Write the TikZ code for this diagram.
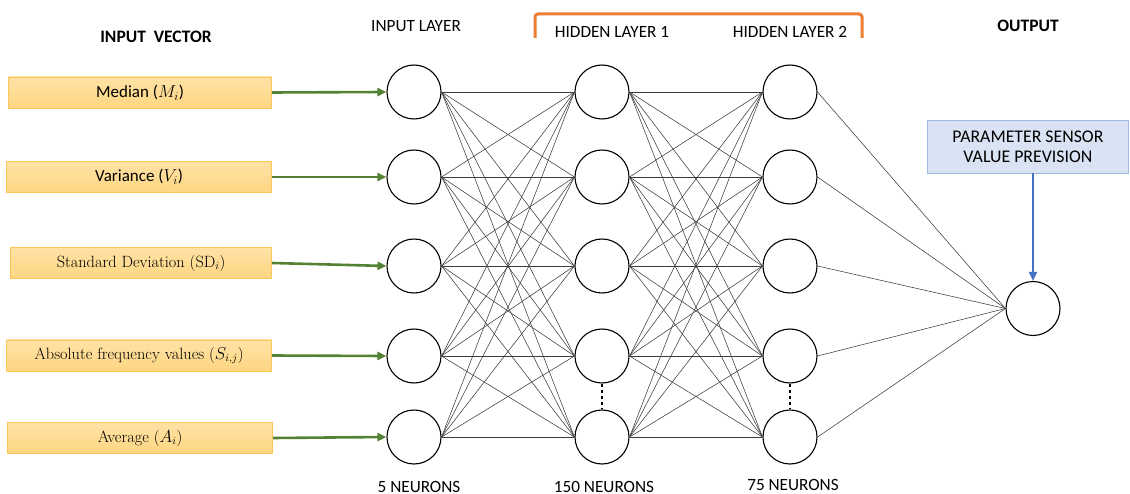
\documentclass[tikz,border=0pt]{standalone}
\usepackage{fontspec}
\newfontfamily\carlito{Carlito}
\usetikzlibrary{arrows.meta}
\definecolor{boxfill}{RGB}{254,214,130}
\definecolor{boxtop}{RGB}{255,226,165}
\definecolor{boxedge}{RGB}{250,200,90}
\definecolor{arrowgreen}{RGB}{84,130,53}
\definecolor{bluefill}{RGB}{218,227,243}
\definecolor{blueedge}{RGB}{160,185,228}
\definecolor{bluearrow}{RGB}{68,114,196}
\definecolor{bracketorange}{RGB}{237,125,49}
\definecolor{linkgray}{RGB}{60,60,60}
\tikzset{
  neuron/.style={circle, draw=black, line width=1.1pt, minimum size=54pt, inner sep=0pt, fill=white},
  vecbox/.style={draw=boxedge, line width=0.8pt, top color=boxtop, bottom color=boxfill,
    minimum height=31pt, inner sep=0pt, anchor=east},
  sanslabel/.style={font=\carlito\fontsize{17}{19}\selectfont},
  seriflabel/.style={font=\fontsize{16.3}{18}\selectfont},
  heading/.style={font=\carlito\fontsize{17.2}{19}\selectfont},
  boldheading/.style={font=\carlito\bfseries\fontsize{17.5}{19}\selectfont},
  resultlabel/.style={font=\carlito\fontsize{17.8}{20}\selectfont},
  countlabel/.style={heading, inner sep=0pt, anchor=base},
  link/.style={draw=linkgray, line width=0.55pt},
  feed/.style={draw=arrowgreen, line width=2.6pt, -{Triangle[length=9pt,width=8pt]}},
  result/.style={draw=bluearrow, line width=2.4pt, -{Triangle[length=9pt,width=8pt]}},
}
\begin{document}
\begin{tikzpicture}[x=1pt,y=-1pt]
\useasboundingbox (0,0) rectangle (1130,494);

% input vector boxes
\node[vecbox, sanslabel, minimum width=263pt] (v1) at (272,92.5) {Median ($M_i$)};
\node[vecbox, sanslabel, minimum width=265pt] (v2) at (272,177) {Variance ($V_i$)};
\node[vecbox, seriflabel, minimum width=261pt] (v3) at (272,263) {Standard Deviation (SD$_i$)};
\node[vecbox, seriflabel, minimum width=265pt] (v4) at (272,355.5) {Absolute frequency values ($S_{i,j}$)};
\node[vecbox, seriflabel, minimum width=265pt] (v5) at (273,438) {Average ($A_i$)};

% neurons
\foreach \k/\y in {1/92,2/177,3/266,4/356,5/437}{
  \node[neuron] (in\k) at (414,\y) {};
  \node[neuron] (ha\k) at (602,\y) {};
  \node[neuron] (hb\k) at (790,\y) {};
}
\node[neuron] (out) at (1033,308.5) {};

% fully connected links
\foreach \i in {1,...,5}{
  \foreach \j in {1,...,5}{
    \draw[link] (in\i.east) -- (ha\j.west);
    \draw[link] (ha\i.east) -- (hb\j.west);
  }
  \draw[link] (hb\i.east) -- (out.west);
}

% omitted neurons
\draw[line width=1.5pt, dash pattern=on 3.5pt off 2.5pt] (ha4.south) -- (ha5.north);
\draw[line width=1.5pt, dash pattern=on 3.5pt off 2.5pt] (hb4.south) -- (hb5.north);

% inputs into the network
\foreach \k in {1,...,5}{
  \draw[feed] (v\k.east) -- (in\k.west);
}

% output box
\node[draw=blueedge, fill=bluefill, line width=0.8pt, minimum width=201pt, minimum height=53pt,
      inner sep=0pt, align=center, resultlabel, anchor=north west] (res) at (927,120)
      {PARAMETER SENSOR\\VALUE PREVISION};
\coordinate (resb) at (1033,173);
\draw[result] (resb) -- (out.north);

% headings
\node[boldheading] (hvec) at (156,37) {INPUT\ \ VECTOR};
\node[heading] (hin) at (416,26) {INPUT LAYER};
\node[heading] (h1) at (612,32) {HIDDEN LAYER 1};
\node[heading] (h2) at (790,32) {HIDDEN LAYER 2};
\node[boldheading] (hout) at (1028,26) {OUTPUT};
\draw[bracketorange, line width=3pt, rounded corners=3pt] (535,38) -- (535,14) -- (862,14) -- (862,38);

% layer sizes
\node[countlabel] (n0) at (419,492) {5 NEURONS};
\node[countlabel] (n1) at (604,492) {150 NEURONS};
\node[countlabel] (n2) at (793,490) {75 NEURONS};
\end{tikzpicture}
\end{document}
